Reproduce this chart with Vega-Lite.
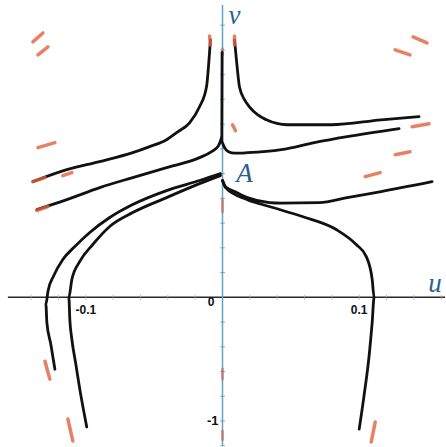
{
  "$schema": "https://vega.github.io/schema/vega-lite/v6.json",
  "width": 446,
  "height": 447,
  "autosize": {"type": "fit", "contains": "padding"},
  "padding": 0,
  "background": "white",
  "config": {"view": {"stroke": null}},
  "datasets": {
    "curves": [
      {"c": "c1", "i": 0, "u": -0.0088, "v": 2.081},
      {"c": "c1", "i": 1, "u": -0.0095, "v": 1.976},
      {"c": "c1", "i": 2, "u": -0.0117, "v": 1.702},
      {"c": "c1", "i": 3, "u": -0.0168, "v": 1.54},
      {"c": "c1", "i": 4, "u": -0.0241, "v": 1.411},
      {"c": "c1", "i": 5, "u": -0.0336, "v": 1.331},
      {"c": "c1", "i": 6, "u": -0.0409, "v": 1.274},
      {"c": "c1", "i": 7, "u": -0.0533, "v": 1.218},
      {"c": "c1", "i": 8, "u": -0.0657, "v": 1.169},
      {"c": "c1", "i": 9, "u": -0.0898, "v": 1.097},
      {"c": "c1", "i": 10, "u": -0.1139, "v": 1.032},
      {"c": "c1", "i": 11, "u": -0.1387, "v": 0.935},

      {"c": "c2", "i": 0, "u": 0.0088, "v": 2.081},
      {"c": "c2", "i": 1, "u": 0.0102, "v": 1.919},
      {"c": "c2", "i": 2, "u": 0.0124, "v": 1.702},
      {"c": "c2", "i": 3, "u": 0.0161, "v": 1.597},
      {"c": "c2", "i": 4, "u": 0.0197, "v": 1.54},
      {"c": "c2", "i": 5, "u": 0.0256, "v": 1.476},
      {"c": "c2", "i": 6, "u": 0.0321, "v": 1.435},
      {"c": "c2", "i": 7, "u": 0.0475, "v": 1.395},
      {"c": "c2", "i": 8, "u": 0.0796, "v": 1.395},
      {"c": "c2", "i": 9, "u": 0.1161, "v": 1.435},
      {"c": "c2", "i": 10, "u": 0.1438, "v": 1.46},

      {"c": "c3", "i": 0, "u": -0.1358, "v": 0.71},
      {"c": "c3", "i": 1, "u": -0.1139, "v": 0.79},
      {"c": "c3", "i": 2, "u": -0.0898, "v": 0.887},
      {"c": "c3", "i": 3, "u": -0.0657, "v": 0.968},
      {"c": "c3", "i": 4, "u": -0.0409, "v": 1.048},
      {"c": "c3", "i": 5, "u": -0.0168, "v": 1.129},
      {"c": "c3", "i": 6, "u": -0.008, "v": 1.177},
      {"c": "c3", "i": 7, "u": -0.0029, "v": 1.226},
      {"c": "c3", "i": 8, "u": -0.0007, "v": 1.29},

      {"c": "c4", "i": 0, "u": -0.0003, "v": 1.98},
      {"c": "c4", "i": 1, "u": -0.0005, "v": 1.26},

      {"c": "c5", "i": 0, "u": 0.0, "v": 1.25},
      {"c": "c5", "i": 1, "u": 0.0015, "v": 1.21},
      {"c": "c5", "i": 2, "u": 0.0044, "v": 1.177},
      {"c": "c5", "i": 3, "u": 0.0088, "v": 1.165},
      {"c": "c5", "i": 4, "u": 0.0182, "v": 1.169},
      {"c": "c5", "i": 5, "u": 0.0431, "v": 1.194},
      {"c": "c5", "i": 6, "u": 0.0672, "v": 1.25},
      {"c": "c5", "i": 7, "u": 0.0912, "v": 1.298},
      {"c": "c5", "i": 8, "u": 0.1292, "v": 1.363},

      {"c": "c6", "i": 0, "u": 0.0, "v": 0.944},
      {"c": "c6", "i": 1, "u": 0.0022, "v": 0.895},
      {"c": "c6", "i": 2, "u": 0.0088, "v": 0.855},
      {"c": "c6", "i": 3, "u": 0.0182, "v": 0.806},
      {"c": "c6", "i": 4, "u": 0.0343, "v": 0.766},
      {"c": "c6", "i": 5, "u": 0.0431, "v": 0.762},
      {"c": "c6", "i": 6, "u": 0.0708, "v": 0.766},
      {"c": "c6", "i": 7, "u": 0.0912, "v": 0.806},
      {"c": "c6", "i": 8, "u": 0.1161, "v": 0.855},
      {"c": "c6", "i": 9, "u": 0.1533, "v": 0.935},

      {"c": "c7", "i": 0, "u": 0.0, "v": 0.944},
      {"c": "c7", "i": 1, "u": 0.0022, "v": 0.887},
      {"c": "c7", "i": 2, "u": 0.0182, "v": 0.79},
      {"c": "c7", "i": 3, "u": 0.0343, "v": 0.734},
      {"c": "c7", "i": 4, "u": 0.0584, "v": 0.653},
      {"c": "c7", "i": 5, "u": 0.0832, "v": 0.548},
      {"c": "c7", "i": 6, "u": 0.0978, "v": 0.427},
      {"c": "c7", "i": 7, "u": 0.1051, "v": 0.331},
      {"c": "c7", "i": 8, "u": 0.1095, "v": 0.145},
      {"c": "c7", "i": 9, "u": 0.1109, "v": 0.0},
      {"c": "c7", "i": 10, "u": 0.1095, "v": -0.202},
      {"c": "c7", "i": 11, "u": 0.1073, "v": -0.468},
      {"c": "c7", "i": 12, "u": 0.1036, "v": -0.79},
      {"c": "c7", "i": 13, "u": 0.1, "v": -1.065},

      {"c": "c8", "i": 0, "u": -0.0015, "v": 1.0},
      {"c": "c8", "i": 1, "u": -0.0168, "v": 0.944},
      {"c": "c8", "i": 2, "u": -0.0409, "v": 0.863},
      {"c": "c8", "i": 3, "u": -0.0657, "v": 0.75},
      {"c": "c8", "i": 4, "u": -0.0825, "v": 0.645},
      {"c": "c8", "i": 5, "u": -0.0971, "v": 0.524},
      {"c": "c8", "i": 6, "u": -0.108, "v": 0.411},
      {"c": "c8", "i": 7, "u": -0.1168, "v": 0.306},
      {"c": "c8", "i": 8, "u": -0.1234, "v": 0.177},
      {"c": "c8", "i": 9, "u": -0.1277, "v": 0.048},
      {"c": "c8", "i": 10, "u": -0.1292, "v": -0.056},
      {"c": "c8", "i": 11, "u": -0.1285, "v": -0.202},
      {"c": "c8", "i": 12, "u": -0.1256, "v": -0.379},
      {"c": "c8", "i": 13, "u": -0.1226, "v": -0.581},

      {"c": "c9", "i": 0, "u": -0.0015, "v": 0.984},
      {"c": "c9", "i": 1, "u": -0.0168, "v": 0.919},
      {"c": "c9", "i": 2, "u": -0.0409, "v": 0.806},
      {"c": "c9", "i": 3, "u": -0.0657, "v": 0.685},
      {"c": "c9", "i": 4, "u": -0.0825, "v": 0.573},
      {"c": "c9", "i": 5, "u": -0.0949, "v": 0.427},
      {"c": "c9", "i": 6, "u": -0.1044, "v": 0.29},
      {"c": "c9", "i": 7, "u": -0.1102, "v": 0.145},
      {"c": "c9", "i": 8, "u": -0.1124, "v": 0.0},
      {"c": "c9", "i": 9, "u": -0.1117, "v": -0.177},
      {"c": "c9", "i": 10, "u": -0.1102, "v": -0.339},
      {"c": "c9", "i": 11, "u": -0.1073, "v": -0.54},
      {"c": "c9", "i": 12, "u": -0.1044, "v": -0.742},
      {"c": "c9", "i": 13, "u": -0.0993, "v": -1.048}
    ],
    "arrows": [
      {"u": -0.1387, "v": 2.065, "u2": -0.1314, "v2": 2.137},
      {"u": -0.135, "v": 1.96, "u2": -0.1277, "v2": 2.024},
      {"u": -0.135, "v": 1.21, "u2": -0.1226, "v2": 1.25},
      {"u": -0.1387, "v": 0.935, "u2": -0.1299, "v2": 0.968},
      {"u": -0.1168, "v": 0.984, "u2": -0.1102, "v2": 1.008},
      {"u": -0.1358, "v": 0.702, "u2": -0.1277, "v2": 0.734},
      {"u": 0.1263, "v": 2.0, "u2": 0.1372, "v2": 1.96},
      {"u": 0.1394, "v": 2.105, "u2": 0.1496, "v2": 2.056},
      {"u": 0.1387, "v": 1.379, "u2": 0.1511, "v2": 1.403},
      {"u": 0.1263, "v": 1.153, "u2": 0.1372, "v2": 1.177},
      {"u": 0.1044, "v": 0.976, "u2": 0.1153, "v2": 1.008},
      {"u": 0.0073, "v": 1.395, "u2": 0.0095, "v2": 1.347},
      {"u": -0.0095, "v": 2.113, "u2": -0.0088, "v2": 2.04},
      {"u": 0.0088, "v": 2.113, "u2": 0.0088, "v2": 2.04},
      {"u": -0.1299, "v": -0.516, "u2": -0.1263, "v2": -0.661},
      {"u": -0.1131, "v": -0.984, "u2": -0.1095, "v2": -1.161},
      {"u": 0.1117, "v": -1.008, "u2": 0.1088, "v2": -1.169}
    ],
    "axisdots": [
      {"u": 0.0, "v": 2.01, "u2": 0.0, "v2": 1.96},
      {"u": 0.0, "v": 0.79, "u2": 0.0, "v2": 0.69},
      {"u": 0.0, "v": -0.58, "u2": 0.0, "v2": -0.66},
      {"u": 0.0, "v": -1.08, "u2": 0.0, "v2": -1.15}
    ],
    "uticks": [
      {"u": -0.14, "v": 0}, {"u": -0.12, "v": 0}, {"u": -0.1, "v": 0},
      {"u": -0.08, "v": 0}, {"u": -0.06, "v": 0}, {"u": -0.04, "v": 0},
      {"u": -0.02, "v": 0}, {"u": 0.02, "v": 0}, {"u": 0.04, "v": 0},
      {"u": 0.06, "v": 0}, {"u": 0.08, "v": 0}, {"u": 0.1, "v": 0},
      {"u": 0.12, "v": 0}, {"u": 0.14, "v": 0}, {"u": 0.16, "v": 0}
    ],
    "vticks": [
      {"u": 0, "v": -1.2}, {"u": 0, "v": -1.0}, {"u": 0, "v": -0.8},
      {"u": 0, "v": -0.6}, {"u": 0, "v": -0.4}, {"u": 0, "v": -0.2},
      {"u": 0, "v": 0.2}, {"u": 0, "v": 0.4}, {"u": 0, "v": 0.6},
      {"u": 0, "v": 0.8}, {"u": 0, "v": 1.0}, {"u": 0, "v": 1.2},
      {"u": 0, "v": 1.4}, {"u": 0, "v": 1.6}, {"u": 0, "v": 1.8},
      {"u": 0, "v": 2.0}, {"u": 0, "v": 2.2}
    ]
  },
  "encoding": {
    "x": {"field": "u", "type": "quantitative", "scale": {"domain": [-0.16277, 0.16277], "nice": false, "zero": false}, "axis": null},
    "y": {"field": "v", "type": "quantitative", "scale": {"domain": [-1.2016, 2.4032], "nice": false, "zero": false}, "axis": null}
  },
  "layer": [
    {
      "data": {"values": [{"u": -0.157, "v": 0, "u2": 0.1628, "v2": 0}]},
      "mark": {"type": "rule", "color": "#2a2a2a", "strokeWidth": 1.5},
      "encoding": {"x2": {"field": "u2"}, "y2": {"field": "v2"}}
    },
    {
      "data": {"values": [{"u": 0, "v": 2.363, "u2": 0, "v2": -1.2016}]},
      "mark": {"type": "rule", "color": "#5fa3c7", "strokeWidth": 1.5},
      "encoding": {"x2": {"field": "u2"}, "y2": {"field": "v2"}}
    },
    {
      "data": {"name": "uticks"},
      "mark": {"type": "tick", "orient": "vertical", "color": "#9aa6ad", "size": 5, "thickness": 1}
    },
    {
      "data": {"name": "vticks"},
      "mark": {"type": "tick", "orient": "horizontal", "color": "#5f8fa8", "size": 5, "thickness": 1}
    },
    {
      "data": {"name": "axisdots"},
      "mark": {"type": "rule", "color": "#d2604a", "strokeWidth": 3, "strokeCap": "round", "opacity": 0.55},
      "encoding": {"x2": {"field": "u2"}, "y2": {"field": "v2"}}
    },
    {
      "data": {"name": "curves"},
      "mark": {"type": "line", "color": "#111111", "strokeWidth": 2.8, "strokeCap": "round", "strokeJoin": "round", "interpolate": "monotone"},
      "encoding": {"detail": {"field": "c"}, "order": {"field": "i", "type": "quantitative"}}
    },
    {
      "data": {"name": "arrows"},
      "mark": {"type": "rule", "color": "#e2613c", "strokeWidth": 3.5, "strokeCap": "round", "opacity": 0.8},
      "encoding": {"x2": {"field": "u2"}, "y2": {"field": "v2"}}
    },
    {
      "data": {"values": [{"u": -0.1, "v": 0, "t": "-0.1"}, {"u": 0.1, "v": 0, "t": "0.1"}]},
      "mark": {"type": "text", "font": "Liberation Sans", "fontWeight": "bold", "fontSize": 12, "color": "#111", "align": "center", "baseline": "middle", "dy": 13},
      "encoding": {"text": {"field": "t"}}
    },
    {
      "data": {"values": [{"u": 0, "v": 0, "t": "0"}]},
      "mark": {"type": "text", "font": "Liberation Sans", "fontWeight": "bold", "fontSize": 12, "color": "#111", "align": "right", "baseline": "middle", "dx": -8, "dy": 5},
      "encoding": {"text": {"field": "t"}}
    },
    {
      "data": {"values": [{"u": 0, "v": -1, "t": "-1"}]},
      "mark": {"type": "text", "font": "Liberation Sans", "fontWeight": "bold", "fontSize": 13, "color": "#111", "align": "right", "baseline": "middle", "dx": -4},
      "encoding": {"text": {"field": "t"}}
    },
    {
      "data": {"values": [{"u": 0.1555, "v": 0.105, "t": "u"}, {"u": 0.0088, "v": 2.27, "t": "v"}, {"u": 0.0161, "v": 1.0, "t": "A"}]},
      "mark": {"type": "text", "font": "Liberation Serif", "fontStyle": "italic", "fontSize": 27, "color": "#2c5f8e", "align": "center", "baseline": "middle"},
      "encoding": {"text": {"field": "t"}}
    }
  ]
}
